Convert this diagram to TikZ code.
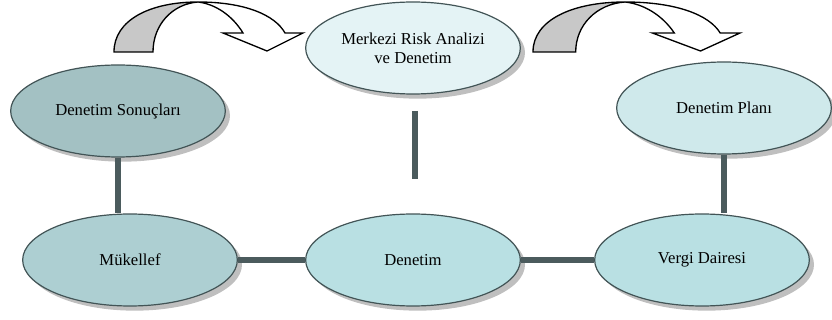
\documentclass[tikz,border=0pt]{standalone}
\usepackage{fontspec}
\setmainfont{Liberation Serif}
\usetikzlibrary{shapes.geometric,shadows}

\tikzset{every picture/.style={line width=0.75pt}}
\tikzset{
  bubble/.style={ellipse, draw={rgb, 255:red, 66; green, 84; blue, 86 }, line width=0.9pt,
    minimum width=161pt, minimum height=69pt, inner sep=0pt, align=center,
    font=\fontsize{12.5}{14.5}\selectfont,
    drop shadow={shadow xshift=3.5pt, shadow yshift=-3.5pt, fill=black!25, opacity=1}},
  link/.style={draw={rgb, 255:red, 75; green, 91; blue, 93 }, line width=4.2pt},
  bentarrow/.style={draw=black, line width=1pt, line join=miter}
}

\begin{document}
\begin{tikzpicture}[x=0.75pt,y=0.75pt,yscale=-1,xscale=1]
\useasboundingbox (0,0) rectangle (832,320);

%Shape: Curved Arrow [id:left back]
\draw [bentarrow, fill={rgb, 255:red, 200; green, 200; blue, 200 }] (114,52) .. controls (114,20) and (150,2) .. (198,2) .. controls (172,4) and (153,25) .. (153,52) -- cycle ;
%Shape: Curved Arrow [id:left front]
\draw [bentarrow, fill=white] (198,2) .. controls (245,2) and (275,15) .. (285,33) -- (303,33) -- (267,51) -- (223,33) -- (243,33) .. controls (232,15) and (215,4) .. (198,2) -- cycle ;

%Shape: Curved Arrow [id:right back]
\draw [bentarrow, fill={rgb, 255:red, 200; green, 200; blue, 200 }] (533,52) .. controls (533,20) and (572.4,2) .. (625,2) .. controls (596.5,4) and (575.7,25) .. (575.7,52) -- cycle ;
%Shape: Curved Arrow [id:right front]
\draw [bentarrow, fill=white] (625,2) .. controls (676.4,2) and (709.3,15) .. (720.2,33) -- (740,33) -- (700.5,51) -- (652.4,33) -- (674.3,33) .. controls (662.2,15) and (643.6,4) .. (625,2) -- cycle ;

% Ellipse Nodes
\node [bubble, fill={rgb, 255:red, 228; green, 243; blue, 245 }] (merkezi) at (413,48) {Merkezi Risk Analizi\\ve Denetim};
\node [bubble, fill={rgb, 255:red, 163; green, 193; blue, 195 }] (sonuc) at (118,111) {Denetim Sonuçları};
\node [bubble, fill={rgb, 255:red, 207; green, 233; blue, 235 }] (plan) at (724,108) {Denetim Planı};
\node [bubble, fill={rgb, 255:red, 173; green, 207; blue, 210 }] (mukellef) at (130,260) {Mükellef};
\node [bubble, fill={rgb, 255:red, 185; green, 224; blue, 227 }] (denetim) at (413,260) {Denetim};
\node [bubble, fill={rgb, 255:red, 185; green, 224; blue, 227 }] (vergi) at (702,260) {Vergi Dairesi};

% Free ends of the middle line
\coordinate (mtop) at (415,111);
\coordinate (mbot) at (415,179);

%Straight Lines
\draw [link] (sonuc.south) -- (sonuc.south |- mukellef.north) ;
\draw [link] (plan.south) -- (plan.south |- vergi.north) ;
\draw [link] (mtop) -- (mbot) ;
\draw [link] (mukellef.east) -- (denetim.west) ;
\draw [link] (denetim.east) -- (vergi.west) ;

\end{tikzpicture}
\end{document}
